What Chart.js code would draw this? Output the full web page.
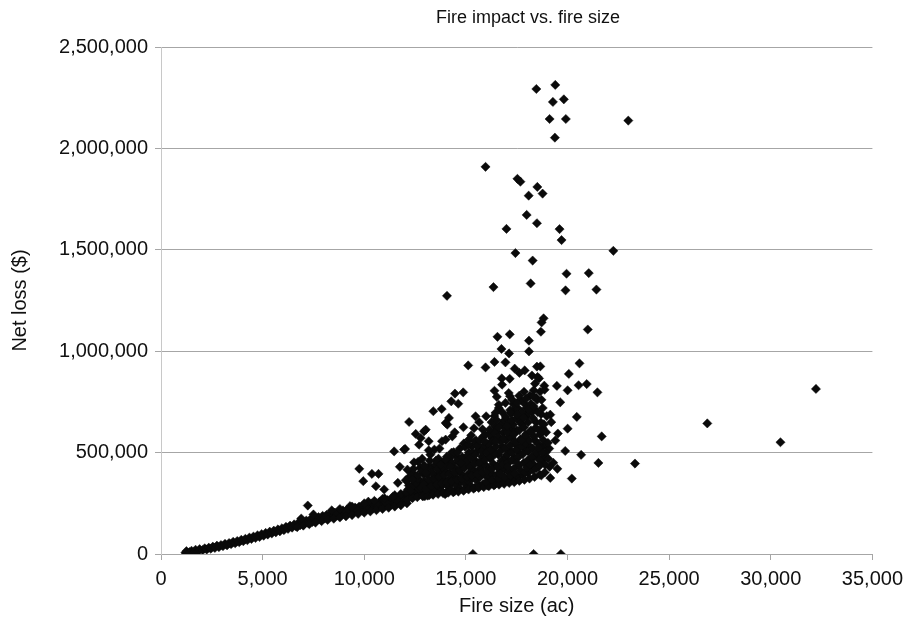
<!DOCTYPE html>
<html>
<head>
<meta charset="utf-8">
<title>Fire impact vs. fire size</title>
<script src="https://cdn.jsdelivr.net/npm/chart.js@4/dist/chart.umd.min.js"></script>
<style>
  body { margin: 0; background: #fff; }
  #chartFire { display: block; }
</style>
</head>
<body>
<canvas id="chartFire" width="910" height="626"></canvas>
<script>
// --- DADOS --- //
// pontos [tamanho do fogo (ac), perda liquida ($)]

// faixa principal, fogos pequenos e medios
let trendPoints = [
  [1200,6000],[1250,14000],[1400,9000],[1500,16000],[1650,12000],[1700,21000],[1850,15000],[1900,24000],
  [2050,19000],[2150,28000],[2250,22000],[2350,31000],[2450,26000],[2550,36000],[2650,30000],[2750,41000],
  [2850,34000],[2950,44000],[3050,39000],[3150,50000],[3250,43000],[3350,54000],[3450,49000],[3550,60000],
  [3650,53000],[3750,64000],[3850,58000],[3950,70000],[4050,63000],[4150,75000],[4250,68000],[4350,81000],
  [4450,74000],[4550,86000],[4650,79000],[4750,92000],[4850,84000],[4950,98000],[5050,90000],[5150,104000],
  [5250,96000],[5350,110000],[5450,101000],[5550,115000],[5650,107000],[5750,121000],[5850,112000],[5950,127000],
  [6050,118000],[6150,134000],[6250,124000],[6350,140000],[6450,130000],[6550,146000],[6650,136000],[6750,153000],
  [6850,142000],[6950,159000],[7050,147000],[7150,165000],[7250,152000],[7350,171000],[7450,158000],[7550,177000],
  [7650,163000],[7750,182000],[7850,170000],[7950,188000],[8050,175000],[8150,193000],[8250,180000],[8350,199000],
  [8450,185000],[8550,204000],[8650,190000],[8750,210000],[8850,195000],[8950,215000],[9050,199000],[9150,219000],
  [9250,203000],[9350,224000],[9450,207000],[9550,229000],[9650,212000],[9750,234000],[9850,216000],[9950,239000],
  [10050,220000],[10150,244000],[10250,224000],[10350,249000],[10450,228000],[10550,253000],[10650,232000],[10750,257000],
  [10850,236000],[10950,262000],[11050,240000],[11150,266000],[11250,244000],[11350,271000],[11450,248000],[11550,276000],
  [11650,252000],[11750,280000],[11850,256000],[11950,285000],
  [8100,184000],[8600,197000],[9100,209000],[9600,222000],[10100,232000],[10600,243000],[11100,252000],[11600,264000],
  [12000,270000],[8400,215000],[9300,236000],[10200,258000],[10900,272000],[11500,290000],[6900,175000],[7500,195000]
];

// borda de baixo e de cima da faixa (mais grossa depois de 6.500 ac)
let trendEdges = [
  [6700,132000],[7000,140000],[7300,147000],[7600,155000],[7900,162000],[8200,168000],[8500,174000],[8800,180000],
  [9100,186000],[9400,192000],[9700,198000],[10000,204000],[10300,210000],[10600,216000],[10900,222000],[11200,228000],
  [11500,234000],[11800,240000],[12100,250000],
  [8800,222000],[9400,234000],[10000,250000],[10500,262000],[11000,275000],[11400,282000],[11800,296000]
];

// nuvem densa entre 12.000 e 19.500 ac
let cloudPoints = [
  [12050,272000],[12100,295000],[12150,318000],[12200,283000],[12250,305000],[12300,330000],[12350,278000],[12400,300000],
  [12450,322000],[12500,345000],[12550,288000],[12600,310000],[12650,335000],[12700,292000],[12750,318000],[12800,352000],
  [12850,298000],[12900,325000],[12950,360000],[12980,285000],
  [12200,378000],[12350,402000],[12500,372000],[12750,425000],[12900,395000],[12650,455000],[12850,470000],
  [13050,300000],[13100,330000],[13150,355000],[13200,290000],[13250,315000],[13300,342000],[13350,370000],[13400,298000],
  [13450,325000],[13500,352000],[13550,385000],[13600,305000],[13650,335000],[13700,362000],[13750,398000],[13800,312000],
  [13850,340000],[13900,372000],[13950,410000],[13980,295000],
  [13100,395000],[13300,425000],[13500,440000],[13650,470000],[13900,450000],[13250,490000],[13700,520000],[13450,515000],
  [14050,305000],[14100,335000],[14150,365000],[14200,400000],[14250,318000],[14300,348000],[14350,380000],[14400,430000],
  [14450,310000],[14500,342000],[14550,372000],[14600,410000],[14650,450000],[14700,322000],[14750,355000],[14800,392000],
  [14850,438000],[14900,315000],[14950,348000],[14980,470000],
  [14150,470000],[14300,500000],[14500,485000],[14700,520000],[14900,545000],[14450,600000],
  [15050,325000],[15100,360000],[15150,398000],[15200,440000],[15250,335000],[15300,372000],[15350,415000],[15400,465000],
  [15450,328000],[15500,365000],[15550,405000],[15600,450000],[15650,340000],[15700,380000],[15750,425000],[15800,480000],
  [15850,345000],[15900,395000],[15950,440000],[15980,510000],
  [15150,500000],[15300,530000],[15500,560000],[15700,520000],[15850,580000],[15400,620000],[15650,650000],
  [16050,338000],[16100,375000],[16150,420000],[16200,470000],[16250,350000],[16300,395000],[16350,445000],[16400,500000],
  [16450,345000],[16500,388000],[16550,435000],[16600,490000],[16650,360000],[16700,410000],[16750,460000],[16800,530000],
  [16850,365000],[16900,420000],[16950,480000],[16980,560000],
  [16100,540000],[16300,570000],[16550,600000],[16750,640000],[16900,660000],[16400,680000],
  [17050,362000],[17100,405000],[17150,455000],[17200,510000],[17250,575000],[17300,370000],[17350,420000],[17400,475000],
  [17450,540000],[17500,610000],[17550,380000],[17600,435000],[17650,495000],[17700,560000],[17750,640000],[17800,390000],
  [17850,450000],[17900,520000],[17950,590000],[17980,680000],
  [17100,650000],[17300,700000],[17550,720000],[17700,760000],[17900,740000],[17200,620000],
  [18050,400000],[18100,460000],[18150,530000],[18200,610000],[18250,700000],[18300,415000],[18350,480000],[18400,560000],
  [18450,650000],[18500,760000],[18550,430000],[18600,500000],[18650,590000],[18700,690000],[18750,460000],[18780,620000],
  [18150,780000],[18400,840000],[18650,800000],[18250,880000],
  [18850,480000],[18900,540000],[18950,600000],[19050,470000],[19100,520000],[19200,650000],[19300,450000],[19400,560000],
  [19500,420000]
];

// mais pontos da nuvem (preenchimento irregular)
let cloudFill = [
  [12120,268000],[12060,305000],[12190,338000],[12090,362000],
  [12380,276000],[12290,312000],[12430,340000],[12330,388000],
  [12610,280000],[12690,322000],[12560,350000],[12640,372000],
  [12880,284000],[12790,326000],[12930,344000],[12820,408000],
  [13120,288000],[13040,318000],[13190,364000],[13080,392000],[13160,428000],
  [13380,292000],[13290,334000],[13420,372000],[13330,402000],
  [13630,296000],[13560,342000],[13680,380000],[13590,418000],[13710,452000],
  [13880,300000],[13800,348000],[13930,390000],[13840,428000],
  [14130,302000],[14060,352000],[14190,394000],[14080,436000],[14220,476000],
  [14380,304000],[14290,358000],[14430,402000],[14320,448000],[14400,502000],
  [14630,308000],[14560,366000],[14690,412000],[14590,462000],
  [14880,312000],[14800,372000],[14930,424000],[14820,478000],[14960,528000],
  [15130,318000],[15060,380000],[15190,432000],[15080,486000],
  [15380,322000],[15290,386000],[15430,444000],[15330,498000],[15450,556000],
  [15630,326000],[15560,394000],[15690,452000],[15590,512000],
  [15880,330000],[15800,402000],[15930,464000],[15830,528000],[15960,588000],
  [16130,334000],[16060,410000],[16190,478000],[16080,542000],
  [16380,338000],[16290,420000],[16430,492000],[16330,558000],[16450,628000],
  [16630,342000],[16560,430000],[16690,506000],[16590,578000],
  [16880,346000],[16800,442000],[16930,522000],[16830,598000],[16960,676000],
  [17130,350000],[17060,452000],[17190,536000],[17080,618000],
  [17380,354000],[17290,464000],[17430,552000],[17330,638000],[17450,716000],
  [17630,360000],[17560,476000],[17690,566000],[17590,658000],
  [17880,366000],[17800,492000],[17930,582000],[17830,678000],[17960,766000],
  [18130,372000],[18060,506000],[18190,602000],[18080,698000],
  [18380,380000],[18290,522000],[18430,622000],[18330,718000],
  [18630,392000],[18560,542000],[18690,648000],
  [18880,402000],[18800,562000],
  [19120,430000]
];

// ainda mais pontos na parte de cima e no pe da nuvem
let cloudFill2 = [
  [15020,455000],[15240,475000],[15460,490000],[15120,540000],[15560,535000],[15780,505000],[15680,560000],
  [15920,555000],[15260,585000],[15820,615000],
  [16020,500000],[16240,515000],[16480,530000],[16700,555000],[16150,590000],[16380,600000],[16620,625000],
  [16860,570000],[16260,650000],[16780,700000],[16520,660000],[16950,620000],
  [17020,490000],[17240,500000],[17480,515000],[17720,530000],[17920,545000],[17140,580000],[17380,600000],
  [17620,610000],[17860,625000],[17040,600000],[17260,660000],[17500,670000],[17760,700000],[17980,720000],
  [17340,740000],[17620,780000],[17860,800000],[17180,710000],
  [18020,460000],[18240,480000],[18480,500000],[18700,520000],[18920,500000],[18120,560000],[18360,580000],
  [18600,610000],[18840,640000],[18060,650000],[18300,670000],[18540,700000],[18780,720000],[18200,740000],
  [18460,770000],[18720,760000],[18980,680000],[18900,440000],
  [12420,420000],[12980,430000],[13520,460000],[14060,480000],[14580,500000],[13220,460000],[13760,440000],
  [14240,430000],[14760,450000],
  [16000,355000],[16300,365000],[16600,372000],[16900,380000],[17200,388000],[17400,398000],[17700,410000],
  [17900,402000],[18000,425000],[18300,445000],[18450,422000],[18600,465000],[18750,500000],[17500,450000],
  [18150,440000],[17050,430000],[16700,395000]
];

// pontos espalhados (fogos grandes / perdas altas)
let outlierPoints = [
  [18466,2293000],[19397,2313000],[19280,2229000],[19819,2242000],[19118,2145000],[19917,2145000],[22990,2137000],
  [19378,2053000],[15966,1909000],[17535,1850000],[17682,1836000],[18515,1810000],[18088,1767000],[18774,1777000],
  [17990,1672000],[18495,1631000],[16996,1603000],[19608,1602000],[19706,1548000],[17437,1484000],[22255,1495000],
  [18284,1447000],[19951,1382000],[21045,1385000],[16357,1316000],[18186,1334000],[19902,1300000],[21422,1304000],
  [14069,1273000],[18823,1162000],[18725,1142000],[18691,1096000],[20996,1107000],[16554,1071000],[17157,1083000],
  [18103,1052000],[16750,1011000],[17123,989000],[18103,999000],[15113,930000],[15966,920000],[16407,947000],
  [16946,945000],[17402,914000],[17892,905000],[17632,893000],[18495,924000],[18662,925000],[20588,940000],
  [20064,888000],[18598,866000],[16765,866000],[17157,864000],[16780,835000],[14461,791000],[14868,797000],
  [16407,805000],[17108,794000],[18333,807000],[18858,830000],[18872,810000],[19476,829000],[20005,807000],
  [20544,832000],[20946,838000],[21471,797000],[18525,873000],
  [16520,775000],[17170,778000],[18310,778000],[14282,753000],[14625,741000],[13397,704000],[13809,715000],
  [14167,671000],[14086,638000],[12206,651000],[15476,679000],[15996,679000],[16618,720000],[16946,745000],
  [17270,761000],[17515,745000],[16456,696000],[17191,696000],[17515,687000],[18088,712000],[17843,671000],
  [18333,728000],[19642,748000],[19152,687000],[20456,676000],[18774,605000],[19525,594000],[20005,618000],
  [21681,580000],[19036,548000],[18578,523000],[19887,508000],[20670,489000],[21520,449000],[23319,446000],
  [18711,387000],[19152,375000],[20211,372000],[15344,0],[18333,0],[19672,0],
  [26877,644000],[30476,551000],[32222,814000],
  [7221,239000],[9755,420000],[9951,359000],[10377,395000],[10701,395000],[10573,334000],[10980,318000],
  [11471,506000],[12010,518000],[11750,430000],[12123,416000],[12451,452000],[12044,364000],[12533,592000],
  [12779,572000],[13024,613000],[12696,539000],[13171,556000],[13171,511000],[14004,646000],[13824,556000],
  [14004,466000],[12607,387000],[11652,351000],[13024,400000],[11961,515000],[12941,437000],[12368,367000],
  [14878,625000],[16618,736000],[15147,564000],[12941,605000],[14004,564000],[14331,580000],[16162,613000],
  [16456,556000],[17025,630000],[17353,589000],[17740,559000],[18627,436000]
];

// eixos e textos
let xTicks = [0, 5000, 10000, 15000, 20000, 25000, 30000, 35000];
let yTicks = [0, 500000, 1000000, 1500000, 2000000, 2500000];
let tituloGrafico = 'Fire impact vs. fire size';

let allPoints = trendPoints.concat(trendEdges, cloudPoints, cloudFill, cloudFill2, outlierPoints).map(function(p){
  return { x: p[0], y: p[1] };
});

let fonte = "'Liberation Sans', Arial, Helvetica, sans-serif";
let cinza = '#a6a6a6';

// titulo desenhado sobre o centro aproximado da figura original
let tituloPlugin = {
  id: 'tituloCentro',
  afterDraw: function(chart){
    let c = chart.ctx;
    c.save();
    c.font = '18px ' + fonte;
    c.fillStyle = '#111';
    c.textAlign = 'center';
    c.textBaseline = 'middle';
    c.fillText(tituloGrafico, 528, 18);
    c.restore();
  }
};

// --------------------------- GRAFICO --------------------------- //
let ctx = document.getElementById("chartFire");

let meuScatter = new Chart(ctx, {
  type: 'scatter',
  data: {
    datasets: [{
      data: allPoints,
      pointStyle: 'rectRot',
      pointRadius: 4.6,
      pointBorderWidth: 0.5,
      backgroundColor: '#0a0a0a',
      borderColor: '#0a0a0a'
    }]
  },
  plugins: [tituloPlugin],
  options: {
    responsive: false,
    animation: false,
    layout: { padding: { left: 0, right: 35, top: 47, bottom: 0 } },
    plugins: {
      legend: { display: false },
      tooltip: { enabled: false },
      title: { display: false }
    },
    scales: {
      x: {
        type: 'linear',
        min: xTicks[0],
        max: xTicks[xTicks.length - 1],
        afterBuildTicks: function(scale){ scale.ticks = xTicks.map(function(v){ return { value: v }; }); },
        afterFit: function(scale){ scale.height = 72; },
        ticks: {
          color: '#111',
          padding: 7,
          maxRotation: 0,
          font: { family: fonte, size: 20 },
          callback: function(v){ return v.toLocaleString('en-US'); }
        },
        grid: { drawOnChartArea: false, drawTicks: true, tickLength: 6, color: cinza },
        border: { display: true, color: cinza },
        title: {
          display: true,
          text: 'Fire size (ac)',
          color: '#111',
          font: { family: fonte, size: 20 },
          padding: { top: 0, bottom: 8 }
        }
      },
      y: {
        type: 'linear',
        min: yTicks[0],
        max: yTicks[yTicks.length - 1],
        afterBuildTicks: function(scale){ scale.ticks = yTicks.map(function(v){ return { value: v }; }); },
        afterFit: function(scale){ scale.width = 161; },
        ticks: {
          color: '#111',
          padding: 7,
          font: { family: fonte, size: 20 },
          callback: function(v){ return v.toLocaleString('en-US'); }
        },
        grid: { color: cinza, tickLength: 6 },
        border: { display: true, color: '#c8c8c8' },
        title: {
          display: true,
          text: 'Net loss ($)',
          color: '#111',
          font: { family: fonte, size: 20 },
          padding: { top: 8, bottom: 0 }
        }
      }
    }
  }
});
</script>
</body>
</html>
